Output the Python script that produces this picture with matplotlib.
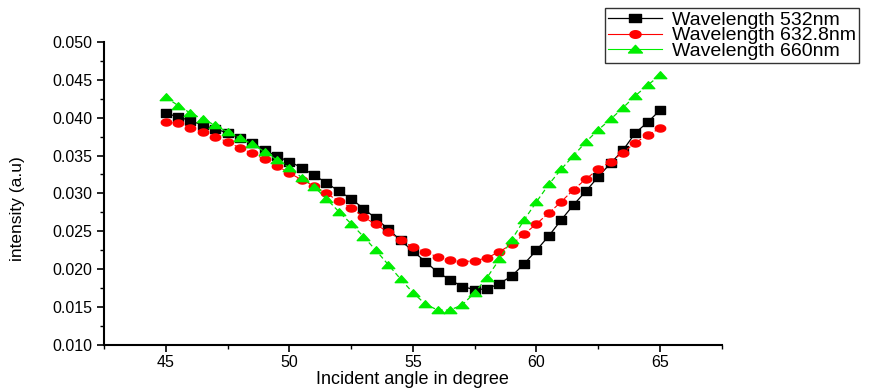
import matplotlib
matplotlib.use("Agg")
import matplotlib.pyplot as plt
import numpy as np
from matplotlib.path import Path
from matplotlib.lines import Line2D
from matplotlib.ticker import MultipleLocator, FormatStrFormatter

angles = [45 + 0.5 * i for i in range(41)]

wl_532 = [0.0406, 0.0401, 0.0396, 0.0390, 0.0385, 0.0380, 0.0373, 0.0367, 0.0357, 0.0349,
          0.0342, 0.0334, 0.0324, 0.0314, 0.0303, 0.0293, 0.0280, 0.0267, 0.0253, 0.0238,
          0.0224, 0.0210, 0.0196, 0.0186, 0.0177, 0.0173, 0.0174, 0.0181, 0.0191, 0.0207,
          0.0225, 0.0244, 0.0265, 0.0285, 0.0303, 0.0322, 0.0340, 0.0357, 0.0380, 0.0394,
          0.0410]
wl_6328 = [0.0394, 0.0393, 0.0387, 0.0381, 0.0375, 0.0368, 0.0360, 0.0353, 0.0345, 0.0336,
           0.0327, 0.0318, 0.0310, 0.0300, 0.0290, 0.0281, 0.0269, 0.0259, 0.0249, 0.0239,
           0.0229, 0.0223, 0.0216, 0.0212, 0.0210, 0.0211, 0.0215, 0.0223, 0.0233, 0.0246,
           0.0260, 0.0274, 0.0289, 0.0305, 0.0319, 0.0332, 0.0342, 0.0354, 0.0367, 0.0377,
           0.0386]
wl_660 = [0.0427, 0.0416, 0.0406, 0.0398, 0.0390, 0.0381, 0.0373, 0.0365, 0.0355, 0.0344,
          0.0334, 0.0321, 0.0309, 0.0293, 0.0276, 0.0260, 0.0243, 0.0225, 0.0206, 0.0187,
          0.0169, 0.0154, 0.0146, 0.0146, 0.0153, 0.0169, 0.0189, 0.0213, 0.0239, 0.0265,
          0.0289, 0.0312, 0.0332, 0.0350, 0.0368, 0.0384, 0.0398, 0.0413, 0.0429, 0.0443,
          0.0456]

labels = ["Wavelength 532nm", "Wavelength 632.8nm", "Wavelength 660nm"]

plt.rcParams['font.family'] = ['Liberation Sans', 'DejaVu Sans']

# wide (horizontally stretched) markers
sq = Path([(-1, -0.68), (1, -0.68), (1, 0.68), (-1, 0.68), (-1, -0.68)],
          [Path.MOVETO, Path.LINETO, Path.LINETO, Path.LINETO, Path.CLOSEPOLY])
t = np.linspace(0, 2 * np.pi, 40)
circ = Path(np.column_stack([np.cos(t), 0.68 * np.sin(t)]))
tri = Path([(-1, -0.5), (1, -0.5), (0, 0.6), (-1, -0.5)],
           [Path.MOVETO, Path.LINETO, Path.LINETO, Path.CLOSEPOLY])

black, red, green = 'black', 'red', '#00ee00'

fig = plt.figure(figsize=(8.84, 3.88), dpi=100)
ax = fig.add_axes([0.1176, 0.111, 0.6990, 0.781])

ax.plot(angles, wl_532, color=black, lw=0.9, marker=sq, markersize=7.5,
        markerfacecolor=black, markeredgecolor=black)
ax.plot(angles, wl_6328, color=red, lw=0.8, ls=(0, (4, 2)), marker=circ, markersize=7.5,
        markerfacecolor=red, markeredgecolor=red)
ax.plot(angles, wl_660, color='#00dd00', lw=0.9, ls=(0, (4, 2.5)), marker=tri, markersize=9,
        markerfacecolor=green, markeredgecolor=green)

ax.set_xlim(42.5, 67.5)
ax.set_ylim(0.010, 0.050)
ax.xaxis.set_major_locator(MultipleLocator(5))
ax.xaxis.set_minor_locator(MultipleLocator(2.5))
ax.yaxis.set_major_locator(MultipleLocator(0.005))
ax.yaxis.set_minor_locator(MultipleLocator(0.0025))
ax.yaxis.set_major_formatter(FormatStrFormatter('%.3f'))

for s in ['top', 'right']:
    ax.spines[s].set_visible(False)
for s in ['left', 'bottom']:
    ax.spines[s].set_linewidth(1.5)

ax.tick_params(which='major', direction='out', length=5, width=1.2, labelsize=11.5)
ax.tick_params(axis='x', which='major', pad=2)
ax.tick_params(which='minor', direction='out', length=3, width=1.0)

ax.set_xlabel("Incident angle in degree", fontsize=13, labelpad=1)
ax.set_ylabel("intensity (a.u)", fontsize=12.5)
ax.yaxis.set_label_coords(-0.128, 0.45)

handles = [
    Line2D([], [], color=black, lw=0.9, marker=sq, markersize=8, markerfacecolor=black, markeredgecolor=black),
    Line2D([], [], color=red, lw=0.8, marker=circ, markersize=8, markerfacecolor=red, markeredgecolor=red),
    Line2D([], [], color=green, lw=0.8, marker=tri, markersize=10, markerfacecolor=green, markeredgecolor=green),
]
leg = fig.legend(handles, labels, loc='upper left', bbox_to_anchor=(0.684, 0.979),
                 bbox_transform=fig.transFigure,
                 fontsize=14, frameon=True, fancybox=False, edgecolor='black',
                 handlelength=2.8, handletextpad=0.5, borderpad=0.15, labelspacing=-0.1,
                 borderaxespad=0)
leg.get_frame().set_linewidth(1.0)

fig.savefig("out.png", dpi=100)
